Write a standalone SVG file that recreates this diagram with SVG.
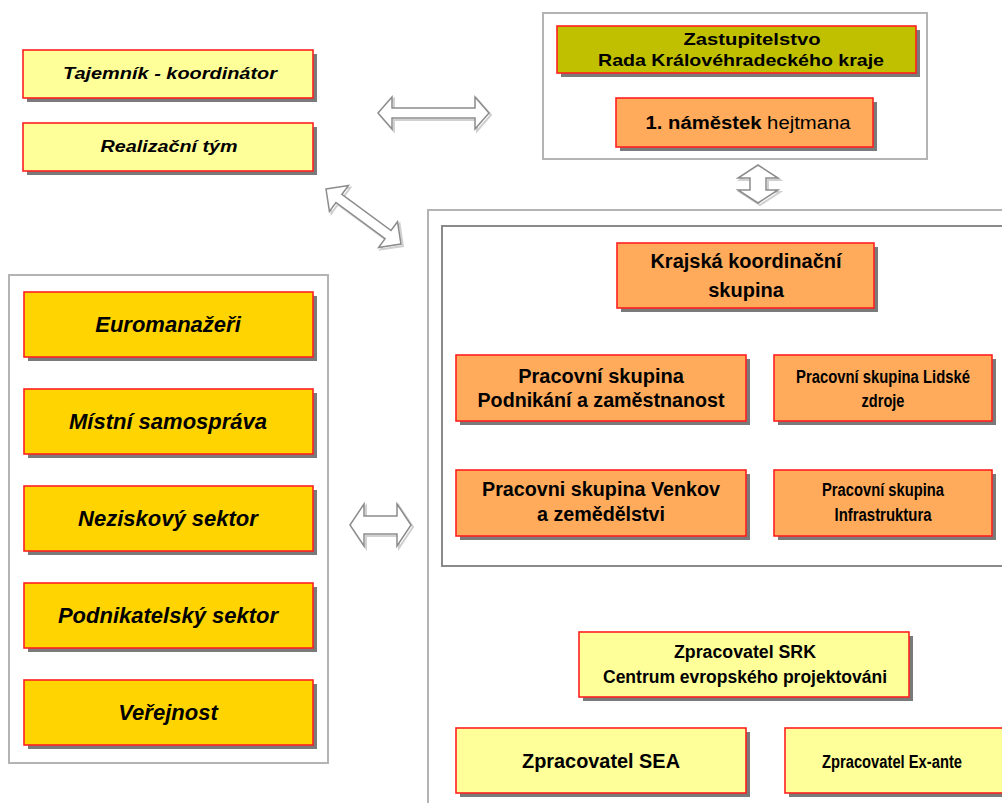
<svg xmlns="http://www.w3.org/2000/svg" width="1002" height="803" viewBox="0 0 1002 803">
<style>
text{font-family:"Liberation Sans",Arial,sans-serif;fill:#000;text-anchor:middle;font-weight:bold}
.it{font-style:italic}
.sh{fill:#7a7a7a}
.box{stroke:#ff2020;stroke-width:1.6}
.ly{fill:#ffff99}
.gd{fill:#ffd400}
.or{fill:#ffab5b}
.ol{fill:#c0c000}
.frame{fill:none;stroke:#b4b4b4;stroke-width:2}
.frame2{fill:none;stroke:#8a8a8a;stroke-width:2}
.arr{fill:#fff;stroke:#8c8c8c;stroke-width:1.5;stroke-linejoin:miter}
.ash{fill:none;stroke:#d0d0d0;stroke-width:2}
.reg{font-weight:normal}
</style>
<rect width="1002" height="803" fill="#fff"/>

<g id="frames">
<rect class="frame" x="543" y="13" width="384" height="146"/>
<rect class="frame" x="9" y="275" width="319" height="488"/>
<rect class="frame" x="428" y="210" width="600" height="620"/>
<rect class="frame2" x="442" y="226" width="600" height="340"/>
</g>

<g id="connectors">
<g transform="translate(2,2)"><polygon class="ash" points="378,113 392,97 392,108 475,108 475,97 489,113 475,129 475,118 392,118 392,129"/></g>
<polygon class="arr" points="378,113 392,97 392,108 475,108 475,97 489,113 475,129 475,118 392,118 392,129"/>
<g transform="translate(2,2)"><polygon class="ash" points="758,165 778,178 766,178 766,190 778,190 758,203 738,190 750,190 750,178 738,178"/></g>
<polygon class="arr" points="758,165 778,178 766,178 766,190 778,190 758,203 738,190 750,190 750,178 738,178"/>
<g transform="translate(328,191) rotate(36.3)"><polygon class="ash" points="0,0 16,-16 16,-5 77,-5 77,-16 93,0 77,16 77,5 16,5 16,16"/></g>
<g transform="translate(326,189) rotate(36.3)"><polygon class="arr" points="0,0 16,-16 16,-5 77,-5 77,-16 93,0 77,16 77,5 16,5 16,16"/></g>
<g transform="translate(2,2)"><polygon class="ash" points="350,525 364,504 364,516 397,516 397,504 411,525 397,546 397,534 364,534 364,546"/></g>
<polygon class="arr" points="350,525 364,504 364,516 397,516 397,504 411,525 397,546 397,534 364,534 364,546"/>
</g>

<g id="tajemnik">
<rect class="sh" x="27" y="54" width="290" height="48"/>
<rect class="box ly" x="23" y="50" width="290" height="48"/>
<text class="it" x="170" y="79" font-size="16" textLength="214" lengthAdjust="spacingAndGlyphs">Tajemník - koordinátor</text>
</g>
<g id="realizacni">
<rect class="sh" x="27" y="127" width="290" height="48"/>
<rect class="box ly" x="23" y="123" width="290" height="48"/>
<text class="it" x="169" y="152" font-size="16" textLength="137" lengthAdjust="spacingAndGlyphs">Realizační tým</text>
</g>

<g id="zastupitelstvo">
<rect class="sh" x="561" y="30" width="359" height="47"/>
<rect class="box ol" x="557" y="26" width="359" height="47"/>
<text x="752" y="45" font-size="17" textLength="137" lengthAdjust="spacingAndGlyphs">Zastupitelstvo</text>
<text x="741" y="66" font-size="17" textLength="286" lengthAdjust="spacingAndGlyphs">Rada Královéhradeckého kraje</text>
</g>
<g id="namestek">
<rect class="sh" x="620" y="102" width="257" height="49"/>
<rect class="box or" x="616" y="98" width="257" height="49"/>
<text x="748" y="129" font-size="18" textLength="205" lengthAdjust="spacingAndGlyphs">1. náměstek <tspan class="reg">hejtmana</tspan></text>
</g>

<g id="euromanazeri">
<rect class="sh" x="28" y="296" width="289" height="65"/>
<rect class="box gd" x="24" y="292" width="289" height="65"/>
<text class="it" x="168" y="332" font-size="22">Euromanažeři</text>
</g>
<g id="mistni">
<rect class="sh" x="28" y="393" width="289" height="65"/>
<rect class="box gd" x="24" y="389" width="289" height="65"/>
<text class="it" x="168" y="429" font-size="22">Místní samospráva</text>
</g>
<g id="neziskovy">
<rect class="sh" x="28" y="490" width="289" height="65"/>
<rect class="box gd" x="24" y="486" width="289" height="65"/>
<text class="it" x="168" y="526" font-size="22">Neziskový sektor</text>
</g>
<g id="podnikatelsky">
<rect class="sh" x="28" y="587" width="289" height="65"/>
<rect class="box gd" x="24" y="583" width="289" height="65"/>
<text class="it" x="168" y="623" font-size="22">Podnikatelský sektor</text>
</g>
<g id="verejnost">
<rect class="sh" x="28" y="684" width="289" height="65"/>
<rect class="box gd" x="24" y="680" width="289" height="65"/>
<text class="it" x="168" y="720" font-size="22">Veřejnost</text>
</g>

<g id="krajska">
<rect class="sh" x="621" y="247" width="257" height="65"/>
<rect class="box or" x="617" y="243" width="257" height="65"/>
<text x="746" y="268" font-size="20">Krajská koordinační</text>
<text x="746" y="297" font-size="20">skupina</text>
</g>
<g id="podnikani">
<rect class="sh" x="460" y="359" width="290" height="66"/>
<rect class="box or" x="456" y="355" width="290" height="66"/>
<text x="601" y="383" font-size="20">Pracovní skupina</text>
<text x="601" y="407" font-size="20" textLength="247" lengthAdjust="spacingAndGlyphs">Podnikání a zaměstnanost</text>
</g>
<g id="lidske">
<rect class="sh" x="778" y="359" width="218" height="66"/>
<rect class="box or" x="774" y="355" width="218" height="66"/>
<text x="883" y="383" font-size="17.5" textLength="174" lengthAdjust="spacingAndGlyphs">Pracovní skupina Lidské</text>
<text x="883" y="407" font-size="17.5" textLength="43" lengthAdjust="spacingAndGlyphs">zdroje</text>
</g>
<g id="venkov">
<rect class="sh" x="460" y="474" width="290" height="66"/>
<rect class="box or" x="456" y="470" width="290" height="66"/>
<text x="601" y="496" font-size="20" textLength="238" lengthAdjust="spacingAndGlyphs">Pracovni skupina Venkov</text>
<text x="601" y="521" font-size="20" textLength="128" lengthAdjust="spacingAndGlyphs">a zemědělstvi</text>
</g>
<g id="infrastruktura">
<rect class="sh" x="778" y="474" width="218" height="66"/>
<rect class="box or" x="774" y="470" width="218" height="66"/>
<text x="883" y="496" font-size="18" textLength="122" lengthAdjust="spacingAndGlyphs">Pracovní skupina</text>
<text x="883" y="521" font-size="18" textLength="97" lengthAdjust="spacingAndGlyphs">Infrastruktura</text>
</g>

<g id="srk">
<rect class="sh" x="583" y="636" width="330" height="65"/>
<rect class="box ly" x="579" y="632" width="330" height="65"/>
<text x="745" y="658" font-size="18" textLength="142" lengthAdjust="spacingAndGlyphs">Zpracovatel SRK</text>
<text x="745" y="683" font-size="18" textLength="284" lengthAdjust="spacingAndGlyphs">Centrum evropského projektováni</text>
</g>
<g id="sea">
<rect class="sh" x="460" y="732" width="290" height="65"/>
<rect class="box ly" x="456" y="728" width="290" height="65"/>
<text x="601" y="768" font-size="21" textLength="158" lengthAdjust="spacingAndGlyphs">Zpracovatel SEA</text>
</g>
<g id="exante">
<rect class="sh" x="789" y="732" width="220" height="65"/>
<rect class="box ly" x="785" y="728" width="220" height="65"/>
<text x="892" y="768" font-size="18" textLength="140" lengthAdjust="spacingAndGlyphs">Zpracovatel Ex-ante</text>
</g>
</svg>
